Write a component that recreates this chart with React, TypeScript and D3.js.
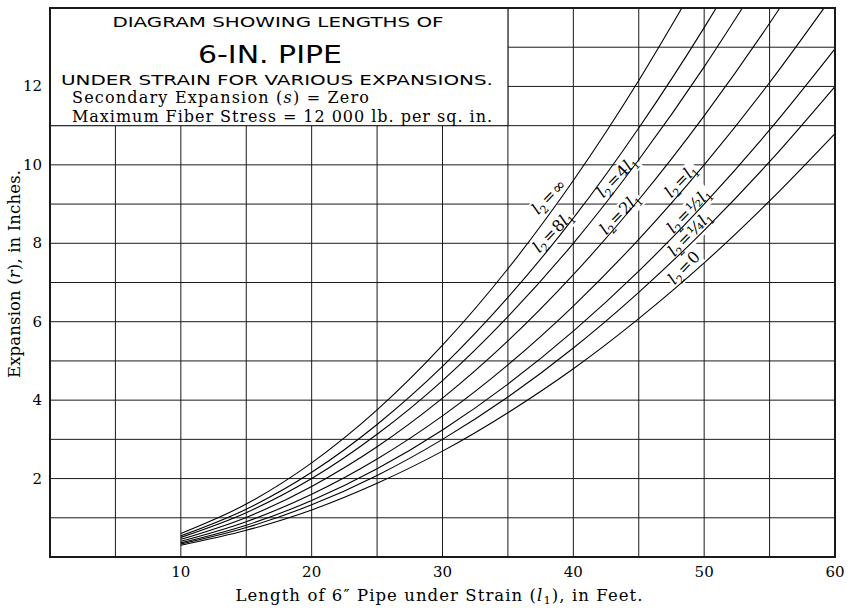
import * as d3 from 'd3';
import { useEffect, useRef } from 'react';

// Length of pipe under strain l1 (ft) against expansion r (in.)
const ratioNames = ['∞', '8', '4', '2', '1', '½', '¼', '0'];

const curveInf = [[10, 0.6], [15, 1.35], [20, 2.4], [25, 3.75], [30, 5.4], [35, 7.35], [40, 9.6], [45, 12.15], [48.3, 14.0]];
const curve8 = [[10, 0.54], [15, 1.22], [20, 2.16], [25, 3.38], [30, 4.86], [35, 6.62], [40, 8.64], [45, 10.94], [50, 13.5], [50.92, 14.0]];
const curve4 = [[10, 0.5], [15, 1.13], [20, 2.0], [25, 3.13], [30, 4.5], [35, 6.13], [40, 8.0], [45, 10.13], [50, 12.5], [52.92, 14.0]];
const curve2 = [[10, 0.45], [15, 1.01], [20, 1.8], [25, 2.81], [30, 4.05], [35, 5.51], [40, 7.2], [45, 9.11], [50, 11.25], [55, 13.61], [55.78, 14.0]];
const curve1 = [[10, 0.4], [15, 0.9], [20, 1.6], [25, 2.5], [30, 3.6], [35, 4.9], [40, 6.4], [45, 8.1], [50, 10.0], [55, 12.1], [59.16, 14.0]];
const curveHalf = [[10, 0.36], [15, 0.81], [20, 1.44], [25, 2.25], [30, 3.24], [35, 4.41], [40, 5.76], [45, 7.29], [50, 9.0], [55, 10.89], [60, 12.96]];
const curveQuarter = [[10, 0.33], [15, 0.75], [20, 1.33], [25, 2.08], [30, 3.0], [35, 4.08], [40, 5.33], [45, 6.75], [50, 8.33], [55, 10.08], [60, 12.0]];
const curveZero = [[10, 0.3], [15, 0.68], [20, 1.2], [25, 1.88], [30, 2.7], [35, 3.68], [40, 4.8], [45, 6.08], [50, 7.5], [55, 9.08], [60, 10.8]];

const xTicks = [10, 20, 30, 40, 50, 60];
const yTicks = [2, 4, 6, 8, 10, 12];

export default function App() {
  const chartRef = useRef<SVGSVGElement>(null);

  const width = 851;
  const height = 611;
  const margin = { top: 8, right: 16, bottom: 54, left: 50 };

  useEffect(() => {
    const svg = d3.select(chartRef.current);
    svg.selectAll('*').remove();

    const curves = [curveInf, curve8, curve4, curve2, curve1, curveHalf, curveQuarter, curveZero];

    const xScale = d3.scaleLinear().domain([0, 60]).range([margin.left, width - margin.right]);
    const yScale = d3.scaleLinear().domain([0, 14]).range([height - margin.bottom, margin.top]);

    const ink = '#1a1a1a';
    const serif = 'DejaVu Serif';
    const sans = 'DejaVu Sans';

    // Grid
    const grid = svg.append('g').attr('stroke', ink).attr('stroke-width', 1);
    grid.selectAll('line.v')
      .data(d3.range(5, 60, 5))
      .enter()
      .append('line')
      .attr('x1', (d) => xScale(d))
      .attr('x2', (d) => xScale(d))
      .attr('y1', yScale(0))
      .attr('y2', yScale(14));
    grid.selectAll('line.h')
      .data(d3.range(1, 14))
      .enter()
      .append('line')
      .attr('x1', xScale(0))
      .attr('x2', xScale(60))
      .attr('y1', (d) => yScale(d))
      .attr('y2', (d) => yScale(d));

    // Title box covers the upper-left cells
    svg.append('rect')
      .attr('x', xScale(0))
      .attr('y', yScale(14))
      .attr('width', xScale(35) - xScale(0))
      .attr('height', yScale(11) - yScale(14))
      .attr('fill', 'white')
      .attr('stroke', ink)
      .attr('stroke-width', 1);

    const bgLayer = svg.append('g');
    const curveLayer = svg.append('g');
    const labelLayer = svg.append('g');

    // Curves
    const line = d3.line<number[]>()
      .x((d) => xScale(d[0]))
      .y((d) => yScale(d[1]))
      .curve(d3.curveMonotoneX);

    curveLayer.selectAll('path')
      .data(curves)
      .enter()
      .append('path')
      .attr('d', (d) => line(d))
      .attr('fill', 'none')
      .attr('stroke', '#000')
      .attr('stroke-width', 1.1);

    // Curve labels, l2 = ... l1, sitting just above each curve
    const labelSpots = [[38.15, 9.18], [38.46, 8.29], [43.35, 9.69], [43.58, 8.75], [48.24, 9.59], [48.85, 8.83], [48.93, 8.24], [48.47, 7.37]];

    ratioNames.forEach((name, i) => {
      const cx = xScale(labelSpots[i][0]);
      const cy = yScale(labelSpots[i][1]);
      const transform = `translate(${cx},${cy}) rotate(-46)`;

      const t = labelLayer.append('text')
        .attr('transform', transform)
        .attr('y', 5)
        .attr('text-anchor', 'middle')
        .attr('font-family', serif)
        .attr('font-size', 16)
        .attr('fill', '#000');
      t.append('tspan').attr('font-style', 'italic').text('l');
      t.append('tspan').attr('font-size', 11).attr('dy', 4).text('2');
      t.append('tspan').attr('dy', -4).attr('dx', 1.5).text('=');
      if (name !== '1') {
        t.append('tspan').attr('dx', 1).text(name);
      }
      if (name !== '∞' && name !== '0') {
        t.append('tspan').attr('font-style', 'italic').text('l');
        t.append('tspan').attr('font-size', 11).attr('dy', 4).text('1');
      }

      const box = (t.node() as SVGTextElement).getBBox();
      bgLayer.append('rect')
        .attr('transform', transform)
        .attr('x', box.x - 1)
        .attr('y', box.y + 1)
        .attr('width', box.width + 2)
        .attr('height', box.height - 2)
        .attr('fill', 'white');
    });

    // Frame
    svg.append('rect')
      .attr('x', xScale(0))
      .attr('y', yScale(14))
      .attr('width', xScale(60) - xScale(0))
      .attr('height', yScale(0) - yScale(14))
      .attr('fill', 'none')
      .attr('stroke', ink)
      .attr('stroke-width', 2);

    // Tick labels
    svg.append('g')
      .selectAll('text')
      .data(xTicks)
      .enter()
      .append('text')
      .attr('x', (d) => xScale(d))
      .attr('y', yScale(0) + 20)
      .attr('text-anchor', 'middle')
      .attr('font-family', serif)
      .attr('font-size', 15)
      .text((d) => d);

    svg.append('g')
      .selectAll('text')
      .data(yTicks)
      .enter()
      .append('text')
      .attr('x', xScale(0) - 8)
      .attr('y', (d) => yScale(d) + 5)
      .attr('text-anchor', 'end')
      .attr('font-family', serif)
      .attr('font-size', 15)
      .text((d) => d);

    // Axis titles
    const xTitle = svg.append('text')
      .attr('x', 439)
      .attr('y', 601)
      .attr('text-anchor', 'middle')
      .attr('font-family', serif)
      .attr('font-size', 16.5)
      .attr('textLength', 407)
      .attr('lengthAdjust', 'spacing');
    xTitle.append('tspan').text('Length of 6″ Pipe under Strain (');
    xTitle.append('tspan').attr('font-style', 'italic').text('l');
    xTitle.append('tspan').attr('font-size', 11.5).attr('dy', 3).text('1');
    xTitle.append('tspan').attr('dy', -3).text('), in Feet.');

    const yTitle = svg.append('text')
      .attr('transform', 'translate(20,274) rotate(-90)')
      .attr('text-anchor', 'middle')
      .attr('font-family', serif)
      .attr('font-size', 16.5)
      .attr('textLength', 208)
      .attr('lengthAdjust', 'spacing');
    yTitle.append('tspan').text('Expansion (');
    yTitle.append('tspan').attr('font-style', 'italic').text('r');
    yTitle.append('tspan').text('), in Inches.');

    // Title block
    const boxMid = (xScale(0) + xScale(35)) / 2;
    svg.append('text')
      .attr('x', boxMid - 1)
      .attr('y', 27)
      .attr('text-anchor', 'middle')
      .attr('font-family', sans)
      .attr('font-size', 14.5)
      .attr('textLength', 331)
      .attr('lengthAdjust', 'spacingAndGlyphs')
      .text('DIAGRAM SHOWING LENGTHS OF');
    svg.append('text')
      .attr('x', boxMid - 9)
      .attr('y', 63)
      .attr('text-anchor', 'middle')
      .attr('font-family', sans)
      .attr('font-size', 25)
      .attr('textLength', 144)
      .attr('lengthAdjust', 'spacingAndGlyphs')
      .text('6-IN. PIPE');
    svg.append('text')
      .attr('x', boxMid - 2)
      .attr('y', 84.5)
      .attr('text-anchor', 'middle')
      .attr('font-family', sans)
      .attr('font-size', 14.5)
      .attr('textLength', 432)
      .attr('lengthAdjust', 'spacingAndGlyphs')
      .text('UNDER STRAIN FOR VARIOUS EXPANSIONS.');

    const sub1 = svg.append('text')
      .attr('x', 72)
      .attr('y', 103)
      .attr('font-family', serif)
      .attr('font-size', 16)
      .attr('textLength', 297)
      .attr('lengthAdjust', 'spacing');
    sub1.append('tspan').text('Secondary Expansion (');
    sub1.append('tspan').attr('font-style', 'italic').text('s');
    sub1.append('tspan').text(') = Zero');

    svg.append('text')
      .attr('x', 72)
      .attr('y', 121.5)
      .attr('font-family', serif)
      .attr('font-size', 16)
      .attr('textLength', 420)
      .attr('lengthAdjust', 'spacing')
      .text('Maximum Fiber Stress = 12 000 lb. per sq. in.');
  }, []);

  return (
    <svg
      ref={chartRef}
      width={width}
      height={height}
      style={{ position: 'absolute', left: 0, top: 0, background: 'white' }}
    />
  );
}
